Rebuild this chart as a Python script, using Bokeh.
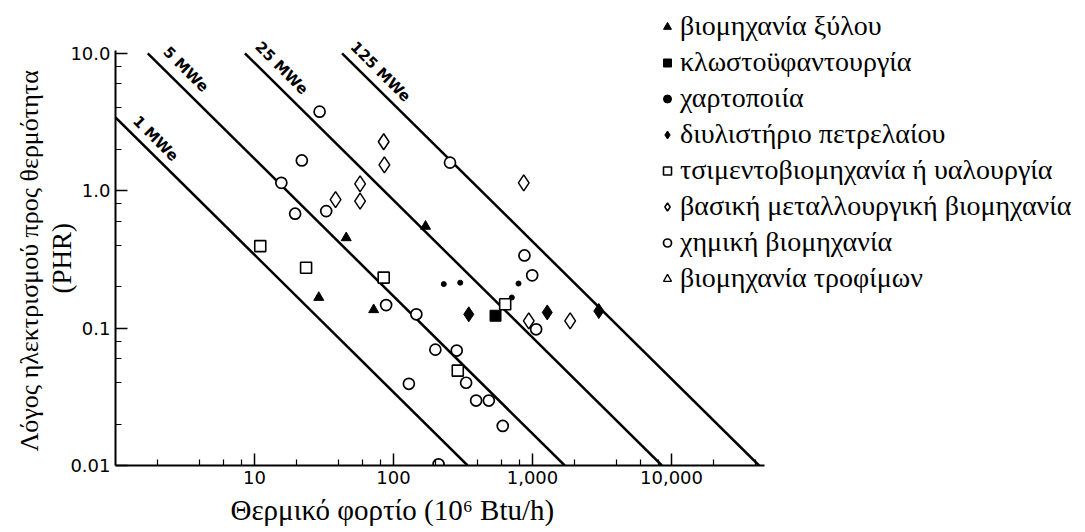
import math
from bokeh.plotting import figure
from bokeh.models import (Range1d, FixedTicker, Legend, LegendItem, Title,
                          ColumnDataSource)
from bokeh.core.properties import value
from bokeh.embed import file_html
from bokeh.resources import INLINE

# ---------------- data ----------------
# heat load (10^6 Btu/h) and power-to-heat ratio (PHR)
wood_q = [29.0, 45.7, 72.0, 170.0]
wood_phr = [0.167, 0.454, 0.136, 0.55]

textile_q = [542.0]
textile_phr = [0.123]

paper_q = [230.0, 302.0, 710.0, 793.0]
paper_phr = [0.209, 0.214, 0.167, 0.211]

refinery_q = [348.0, 1277.0, 3000.0]
refinery_phr = [0.126, 0.130, 0.133]

cement_q = [11.0, 23.5, 85.0, 290.0, 636.0]
cement_phr = [0.395, 0.275, 0.233, 0.049, 0.149]

metal_q = [38.3, 57.5, 57.5, 85.0, 86.0, 865.0, 940.0, 1866.0]
metal_phr = [0.86, 1.12, 0.84, 2.27, 1.54, 1.14, 0.113, 0.113]

chem_q = [29.4, 21.9, 15.6, 19.6, 32.8, 255.0, 875.0, 995.0, 1062.0,
          200.0, 285.0, 333.0, 393.0, 485.0, 611.0, 211.0, 88.5, 146.0, 129.0]
chem_phr = [3.76, 1.66, 1.14, 0.68, 0.71, 1.60, 0.338, 0.242, 0.098,
            0.0697, 0.0686, 0.040, 0.0297, 0.0297, 0.0194, 0.0102, 0.147, 0.126, 0.0393]

food_q = []      # no points plotted for the food industry (legend only)
food_phr = []

# constant-power lines (MWe)
mwe_labels = ["1 MWe", "5 MWe", "25 MWe", "125 MWe"]
line_q0 = [1.0, 1.706, 8.53, 42.65]
line_phr0 = [3.412, 10.0, 10.0, 10.0]
line_q1 = [341.2, 1706.0, 8530.0, 42650.0]
line_phr1 = [0.01, 0.01, 0.01, 0.01]

legend_labels = ["βιομηχανία ξύλου", "κλωστοϋφαντουργία", "χαρτοποιία",
                 "διυλιστήριο πετρελαίου", "τσιμεντοβιομηχανία ή υαλουργία",
                 "βασική μεταλλουργική βιομηχανία", "χημική βιομηχανία",
                 "βιομηχανία τροφίμων"]

x_title = "Θερμικό φορτίο  (10⁶ Btu/h)"
y_title_main = "Λόγος ηλεκτρισμού προς θερμότητα"
y_title_sub = "(PHR)"

x_major = [10, 100, 1000, 10000]
x_major_labels = ["10", "100", "1,000", "10,000"]
y_major = [0.01, 0.1, 1.0, 10.0]
y_major_labels = ["0.01", "0.1", "1.0", "10.0"]

x_minor = [m * d for d in [1, 10, 100, 1000, 10000] for m in [2, 4, 6, 8] if m * d < 47000]
y_minor = [m * d for d in [0.01, 0.1, 1.0] for m in [2, 4, 6, 8]]

# ---------------- layout ----------------
W, H = 1085, 532
BL, BR, BT, BB = 115, 0, 0, 65
PX_DEC_X, PX_DEC_Y = 139.0, 138.0
fw = W - BL - BR
fh = H - BT - BB

p = figure(width=W, height=H, x_axis_type="log", y_axis_type="log",
           x_range=Range1d(1, 10 ** (fw / PX_DEC_X)),
           y_range=Range1d(0.01, 0.01 * 10 ** (fh / PX_DEC_Y)),
           output_backend="svg", toolbar_location=None, title=None,
           min_border_left=BL, min_border_right=BR,
           min_border_top=BT, min_border_bottom=BB)
p.outline_line_color = None
p.xgrid.visible = False
p.ygrid.visible = False
p.background_fill_color = "white"
p.border_fill_color = "white"

# axes
for ax, ticks, minors, labels, bounds in [
        (p.xaxis[0], x_major, x_minor, x_major_labels, (1, 47000)),
        (p.yaxis[0], y_major, y_minor, y_major_labels, (0.01, 10.5))]:
    ax.ticker = FixedTicker(ticks=ticks, minor_ticks=minors)
    ax.major_label_overrides = {t: l for t, l in zip(ticks, labels)}
    ax.bounds = bounds
    ax.axis_line_width = 2
    ax.axis_line_color = "black"
    ax.major_tick_line_width = 1.5
    ax.minor_tick_line_width = 1.2
    ax.major_tick_out = 0
    ax.minor_tick_out = 0
    ax.major_tick_in = 12
    ax.minor_tick_in = 6
    ax.major_label_text_font = "DejaVu Sans"
    ax.major_label_text_font_size = "18px"
    ax.major_label_text_color = "black"
    ax.major_label_standoff = 5

# constant power lines
p.segment(x0=line_q0, y0=line_phr0, x1=line_q1, y1=line_phr1,
          line_color="black", line_width=2.5)

lbl_src = ColumnDataSource(dict(x=line_q0, y=line_phr0, text=mwe_labels,
                                dx=[20, 18, 13, 11], dy=[1, -4, -9, -9]))
p.text(x="x", y="y", text="text", source=lbl_src, x_offset="dx", y_offset="dy",
       angle=-math.pi / 4, text_font=value("DejaVu Sans"), text_font_style="bold",
       text_font_size="15px", text_align="left", text_baseline="alphabetic",
       text_color="black")

# markers
nan = float("nan")
r_wood = p.scatter(wood_q, wood_phr, marker="triangle", size=10,
                   fill_color="black", line_color="black")
r_textile = p.scatter(textile_q, textile_phr, marker="square", size=11,
                      fill_color="black", line_color="black")
r_paper = p.scatter(paper_q, paper_phr, marker="circle", size=5,
                    fill_color="black", line_color="black")
r_ref = p.scatter(refinery_q, refinery_phr, marker="diamond", size=15,
                  fill_color="black", line_color="black")
r_cement = p.scatter(cement_q, cement_phr, marker="square", size=11,
                     fill_color="white", line_color="black", line_width=1.6)
r_metal = p.scatter(metal_q, metal_phr, marker="diamond", size=16,
                    fill_color="white", line_color="black", line_width=1.5)
r_chem = p.scatter(chem_q, chem_phr, marker="circle", size=11,
                   fill_color="white", line_color="black", line_width=1.7)
r_food = p.scatter(food_q or [nan], food_phr or [nan], marker="triangle", size=11,
                   fill_color="white", line_color="black", line_width=1.3)

renderers = [r_wood, r_textile, r_paper, r_ref, r_cement, r_metal, r_chem, r_food]
legend = Legend(items=[LegendItem(label=l, renderers=[r], index=0)
                       for l, r in zip(legend_labels, renderers)],
                location=(542, 171), glyph_width=20, glyph_height=31,
                label_height=31, spacing=4, padding=0, margin=0,
                label_standoff=3, border_line_color=None,
                background_fill_alpha=0,
                label_text_font="Liberation Serif", label_text_font_size="28px",
                label_text_color="black")
p.add_layout(legend)

serif = "Liberation Serif"
t_phr = Title(text=y_title_sub, align="left", offset=172, standoff=-20,
              vertical_align="middle", text_font=serif, text_font_size="27px",
              text_font_style="normal", text_color="black")
p.add_layout(t_phr, "left")
t_y = Title(text=y_title_main, align="left", offset=14, standoff=22,
            vertical_align="middle", text_font=serif, text_font_size="26px",
            text_font_style="normal", text_color="black")
p.add_layout(t_y, "left")
t_x = Title(text=x_title, align="left", offset=115, standoff=12,
            vertical_align="middle", text_font=serif, text_font_size="29px",
            text_font_style="normal", text_color="black")
p.add_layout(t_x, "below")

open("out.html", "w").write(file_html(p, INLINE))
